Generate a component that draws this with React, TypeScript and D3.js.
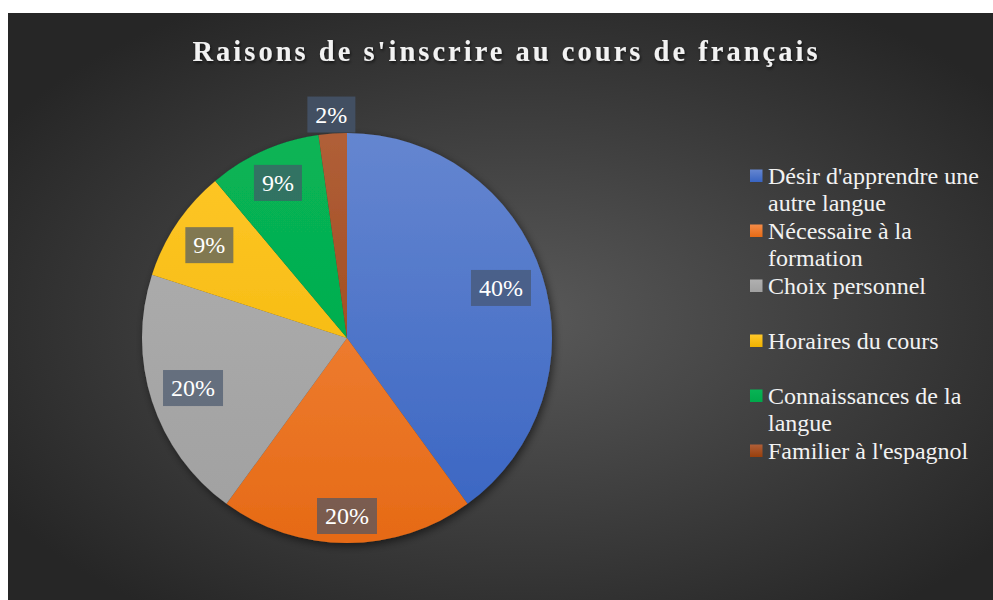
import React from "react";
import * as d3 from "d3";

// survey answers (counts) -> 40 / 20 / 20 / 9 / 9 / 2 %
const categories = [
  "Désir d'apprendre une autre langue",
  "Nécessaire à la formation",
  "Choix personnel",
  "Horaires du cours",
  "Connaissances de la langue",
  "Familier à l'espagnol",
];
const counts = [18, 9, 9, 4, 4, 1];
// legend lines (wrapped like the original)
const legendLines = [
  ["Désir d'apprendre une", "autre langue"],
  ["Nécessaire à la", "formation"],
  ["Choix personnel"],
  ["Horaires du cours"],
  ["Connaissances de la", "langue"],
  ["Familier à l'espagnol"],
];
// top / bottom colours for each slice gradient
const colorsTop = ["#6586d0", "#f48c48", "#b0b0b0", "#ffc82a", "#08b455", "#b05f38"];
const colorsBottom = ["#3864c2", "#e66a15", "#a0a0a0", "#efb200", "#00a84a", "#983f0c"];

const title = "Raisons de s'inscrire au cours de français";

const W = 993;
const H = 600;
const cx = 347;
const cy = 338;
const R = 205;
const serif = "Liberation Serif, Times New Roman, serif";

export default function App() {
  const total = d3.sum(counts);
  const pie = d3
    .pie<number>()
    .sort(null)
    .value((d) => d);
  const arcs = pie(counts);
  const arc = d3.arc<d3.PieArcDatum<number>>().innerRadius(0).outerRadius(R);
  const outerArc = d3.arc<d3.PieArcDatum<number>>().innerRadius(R + 19).outerRadius(R + 19);
  const pct = d3.format(".0%");

  // legend rows: 55px apart, starting at y=176
  const legendY = d3
    .scaleLinear()
    .domain([0, 1])
    .range([176, 231]);

  return (
    <div style={{ position: "fixed", left: 0, top: 0, width: W, height: H, overflow: "hidden", background: "#fff" }}>
      <svg width={W} height={H} style={{ display: "block", fontFamily: serif }}>
        <defs>
          <radialGradient id="bg" cx="52%" cy="52%" r="62%">
            <stop offset="0%" stopColor="#595959" />
            <stop offset="100%" stopColor="#262626" />
          </radialGradient>
          {colorsTop.map((c, i) => (
            <linearGradient
              key={i}
              id={`g${i}`}
              gradientUnits="userSpaceOnUse"
              x1={0}
              y1={-R}
              x2={0}
              y2={R}
            >
              <stop offset="0%" stopColor={c} />
              <stop offset="100%" stopColor={colorsBottom[i]} />
            </linearGradient>
          ))}
          {colorsTop.map((c, i) => (
            <linearGradient key={"l" + i} id={`lg${i}`} x1="0" y1="0" x2="0" y2="1">
              <stop offset="0%" stopColor={c} />
              <stop offset="100%" stopColor={colorsBottom[i]} />
            </linearGradient>
          ))}
          <filter id="shadow" x="-20%" y="-20%" width="140%" height="140%">
            <feDropShadow dx="2" dy="3" stdDeviation="4" floodColor="#000" floodOpacity="0.55" />
          </filter>
          <filter id="tshadow" x="-5%" y="-30%" width="110%" height="160%">
            <feDropShadow dx="1" dy="2" stdDeviation="1.5" floodColor="#000" floodOpacity="0.6" />
          </filter>
        </defs>

        <rect x={8} y={13} width={W - 8} height={H - 13} fill="url(#bg)" />

        <text
          x={505}
          y={61}
          textAnchor="middle"
          style={{ fontFamily: serif }}
          fontWeight="bold"
          fontSize={28.5}
          fill="#f2f2f2"
          textLength={625}
          lengthAdjust="spacing"
          filter="url(#tshadow)"
        >
          {title}
        </text>

        <g transform={`translate(${cx},${cy})`}>
          <g filter="url(#shadow)">
            {arcs.map((a, i) => (
              <path key={i} d={arc(a) ?? ""} fill={`url(#g${i})`} />
            ))}
          </g>
          {arcs.map((a, i) => {
            const small = a.data / total < 0.05;
            const txt = pct(a.data / total);
            const bw = txt.length > 2 ? 60 : 48;
            const bh = 36;
            let lx: number;
            let ly: number;
            if (small) {
              [lx, ly] = outerArc.centroid(a);
            } else {
              // "best fit": push the box out until its far corner is near the rim
              const mid = (a.startAngle + a.endAngle) / 2;
              const s = Math.sin(mid);
              const c = -Math.cos(mid);
              const rho = R - 9 - ((bw / 2) * Math.abs(s) + (bh / 2) * Math.abs(c));
              lx = rho * s;
              ly = rho * c;
            }
            return (
              <g key={"lab" + i} transform={`translate(${lx},${ly})`}>
                <rect x={-bw / 2} y={-bh / 2} width={bw} height={bh} fill="#44546a" fillOpacity={small ? 0.85 : 0.67} />
                <text y={8} textAnchor="middle" style={{ fontFamily: serif }} fontSize={24} fill="#ffffff">
                  {txt}
                </text>
              </g>
            );
          })}
        </g>

        <g>
          {legendLines.map((lines, i) => {
            const y0 = legendY(i);
            return (
              <g key={categories[i]}>
                <rect x={750} y={y0 - 6.5} width={12.5} height={12.5} fill={`url(#lg${i})`} />
                {lines.map((ln, j) => (
                  <text
                    key={j}
                    x={768}
                    y={y0 + 7.5 + j * 27.5}
                    style={{ fontFamily: serif }}
                    fontSize={24}
                    fill="#f2f2f2"
                  >
                    {ln}
                  </text>
                ))}
              </g>
            );
          })}
        </g>
      </svg>
    </div>
  );
}
